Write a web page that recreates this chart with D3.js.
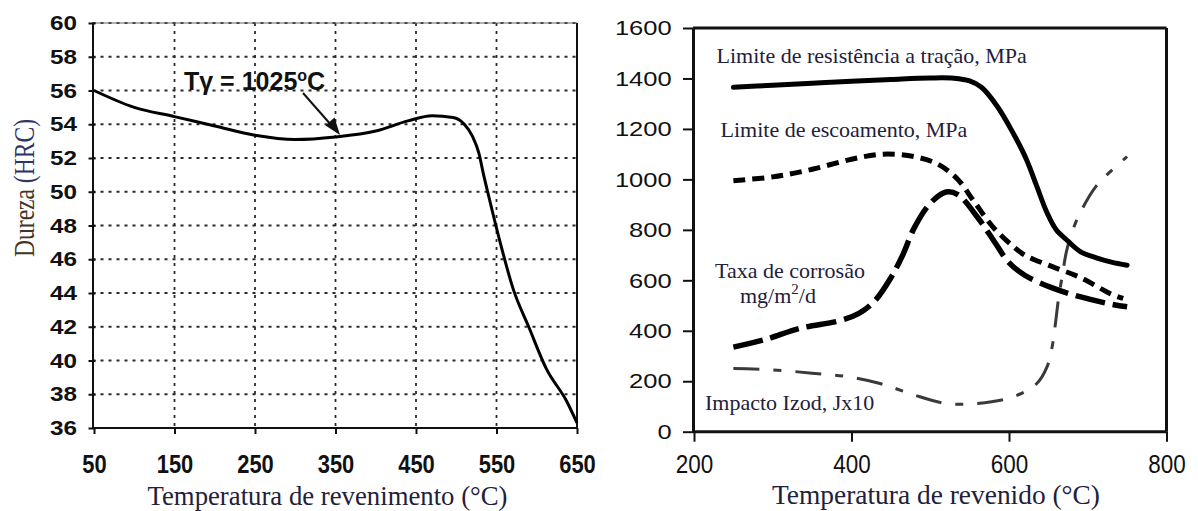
<!DOCTYPE html>
<html>
<head>
<meta charset="utf-8">
<script src="https://cdn.jsdelivr.net/npm/d3@7"></script>
<style>
  body { margin: 0; background: #fff; }
  svg { display: block; }
</style>
</head>
<body>
<svg id="chart" width="1198" height="511"></svg>
<script>
// ---- Hardness after tempering (left panel) ----
const hardTemp = [50, 100, 150, 200, 250, 300, 350, 400, 440, 470, 496, 510, 520, 528, 534, 540, 554, 571, 590, 612, 637, 650];
const hardHRC  = [56.0, 55.0, 54.45, 53.9, 53.35, 53.1, 53.25, 53.6, 54.2, 54.5, 54.4, 54.0, 53.3, 52.3, 51.0, 49.8, 47.1, 44.2, 42.0, 39.5, 37.6, 36.3];
const hardXTicks = [50, 150, 250, 350, 450, 550, 650];
const hardYTicks = [36, 38, 40, 42, 44, 46, 48, 50, 52, 54, 56, 58, 60];

// ---- Mechanical properties vs tempering temperature (right panel) ----
const tensileTemp = [250, 300, 350, 400, 450, 500, 530, 550, 565, 585, 605, 622, 635, 648, 660, 675, 690, 710, 730, 750];
const tensileMPa  = [1365, 1373, 1381, 1389, 1396, 1402, 1401, 1390, 1365, 1290, 1185, 1080, 975, 870, 800, 755, 715, 690, 672, 660];

const yieldTemp = [250, 300, 350, 400, 440, 480, 510, 535, 555, 580, 605, 620, 650, 690, 730, 745];
const yieldMPa  = [995, 1010, 1040, 1080, 1100, 1090, 1060, 1000, 915, 810, 735, 700, 660, 612, 545, 528];

const corrTemp = [250, 290, 335, 385, 410, 430, 450, 465, 480, 500, 520, 535, 560, 580, 600, 620, 655, 690, 730, 750];
const corrRate = [335, 365, 410, 440, 470, 520, 610, 700, 810, 905, 950, 940, 850, 760, 670, 620, 570, 535, 505, 495];

const izodTemp = [250, 300, 350, 395, 435, 455, 480, 520, 560, 605, 635, 648, 655, 659, 663, 668, 673, 680, 690, 710, 730, 750];
const izodJx10 = [250, 245, 232, 218, 192, 172, 145, 112, 112, 138, 190, 255, 340, 430, 530, 625, 715, 790, 865, 970, 1035, 1090];

const propXTicks = [200, 400, 600, 800];
const propYTicks = [0, 200, 400, 600, 800, 1000, 1200, 1400, 1600];

const SANS = "'Liberation Sans', Arial, sans-serif";
const SERIF = "'Liberation Serif', 'Times New Roman', serif";
const INK = "#22203a";

const svg = d3.select("#chart");

// ======================= Left panel =======================
const xL = d3.scaleLinear().domain([50, 650]).range([94, 577]);
const yL = d3.scaleLinear().domain([36, 60]).range([428, 23]);
const leftX0 = 92.5;

const gL = svg.append("g");

// dotted grid
gL.append("g").selectAll("line")
  .data(hardYTicks.filter(v => v > 36))
  .join("line")
  .attr("x1", leftX0).attr("x2", xL(650))
  .attr("y1", d => yL(d)).attr("y2", d => yL(d))
  .attr("stroke", "#2a2a2a").attr("stroke-width", 1.8)
  .attr("stroke-dasharray", "3,5");
gL.append("g").selectAll("line")
  .data(hardXTicks.filter(v => v > 50 && v < 650))
  .join("line")
  .attr("x1", d => xL(d)).attr("x2", d => xL(d))
  .attr("y1", yL(60)).attr("y2", yL(36))
  .attr("stroke", "#2a2a2a").attr("stroke-width", 1.8)
  .attr("stroke-dasharray", "3,5");

// frame
gL.append("line").attr("x1", leftX0).attr("x2", xL(650)).attr("y1", yL(60)).attr("y2", yL(60))
  .attr("stroke", "#666").attr("stroke-width", 1);
gL.append("line").attr("x1", xL(650)).attr("x2", xL(650)).attr("y1", yL(60)).attr("y2", yL(36))
  .attr("stroke", "#111").attr("stroke-width", 2);
gL.append("line").attr("x1", leftX0).attr("x2", xL(650)).attr("y1", yL(36)).attr("y2", yL(36))
  .attr("stroke", "#111").attr("stroke-width", 2);

// y axis
const axL = gL.append("g").attr("transform", `translate(${leftX0},0)`)
  .call(d3.axisLeft(yL).tickValues(hardYTicks).tickSize(4).tickSizeOuter(0).tickPadding(11.5));
axL.select(".domain").attr("stroke", "#111").attr("stroke-width", 2);
axL.selectAll(".tick line").attr("x1", 3).attr("stroke", "#111").attr("stroke-width", 2);
axL.selectAll(".tick text")
  .attr("font-family", SANS).attr("font-weight", "bold").attr("font-size", 21).attr("fill", "#111")
  .attr("textLength", d => String(d).length * 13.5).attr("lengthAdjust", "spacingAndGlyphs");

// x axis
const axLB = gL.append("g").attr("transform", `translate(0,${yL(36)})`)
  .call(d3.axisBottom(xL).tickValues(hardXTicks).tickSize(6).tickSizeOuter(0));
axLB.select(".domain").remove();
axLB.selectAll(".tick line").attr("stroke", "#111").attr("stroke-width", 2);
axLB.selectAll(".tick text")
  .attr("y", 45).attr("dy", 0)
  .attr("font-family", SANS).attr("font-weight", "bold").attr("font-size", 25).attr("fill", "#111")
  .attr("textLength", d => String(d).length * 12.2).attr("lengthAdjust", "spacingAndGlyphs");

// hardness curve
const lineL = d3.line().x((d, i) => xL(hardTemp[i])).y(d => yL(d)).curve(d3.curveMonotoneX);
gL.append("path").datum(hardHRC)
  .attr("d", lineL).attr("fill", "none").attr("stroke", "#000").attr("stroke-width", 3)
  .attr("stroke-linejoin", "round");

// annotation
const ann = gL.append("text").attr("x", 184).attr("y", 90)
  .attr("font-family", SANS).attr("font-weight", "bold").attr("font-size", 25).attr("fill", "#111");
ann.append("tspan").text("Tγ = 1025");
ann.append("tspan").attr("font-size", 16).attr("dy", -9).text("o");
ann.append("tspan").attr("dy", 9).text("C");

gL.append("line").attr("x1", 303).attr("y1", 93).attr("x2", 332).attr("y2", 126)
  .attr("stroke", "#111").attr("stroke-width", 2);
gL.append("path").attr("d", "M340,135 L325.5,125.5 L334.5,117.5 Z").attr("fill", "#111");

// axis titles
gL.append("text").attr("x", 147.5).attr("y", 505)
  .attr("font-family", SERIF).attr("font-size", 26.5).attr("fill", INK)
  .attr("textLength", 360).attr("lengthAdjust", "spacingAndGlyphs")
  .text("Temperatura de revenimento (°C)");

const yTitle = gL.append("text")
  .attr("transform", "translate(34,188) rotate(-90) scale(1,1.25)")
  .attr("text-anchor", "middle")
  .attr("font-family", SERIF).attr("font-size", 23.5)
  .attr("textLength", 138).attr("lengthAdjust", "spacingAndGlyphs");
yTitle.append("tspan").attr("fill", "#45321f").text("Dureza ");
yTitle.append("tspan").attr("fill", "#2c3468").text("(HRC)");

// ======================= Right panel =======================
const xR = d3.scaleLinear().domain([200, 800]).range([694, 1166.5]);
const yR = d3.scaleLinear().domain([0, 1600]).range([431.7, 28]);
const gR = svg.append("g");

// frame (top, right, bottom)
gR.append("line").attr("x1", 693).attr("x2", xR(800)).attr("y1", yR(1600)).attr("y2", yR(1600))
  .attr("stroke", "#111").attr("stroke-width", 3);
gR.append("line").attr("x1", xR(800)).attr("x2", xR(800)).attr("y1", yR(1600)).attr("y2", yR(0))
  .attr("stroke", "#111").attr("stroke-width", 3);
gR.append("line").attr("x1", 693).attr("x2", xR(800)).attr("y1", yR(0)).attr("y2", yR(0))
  .attr("stroke", "#111").attr("stroke-width", 3);

// y axis
const axR = gR.append("g").attr("transform", "translate(693,0)")
  .call(d3.axisLeft(yR).tickValues(propYTicks).tickFormat(d3.format("d"))
    .tickSize(10).tickSizeOuter(0).tickPadding(11.3));
axR.select(".domain").attr("stroke", "#111").attr("stroke-width", 3);
axR.selectAll(".tick line").attr("stroke", "#111").attr("stroke-width", 2);
axR.selectAll(".tick text")
  .attr("font-family", SANS).attr("font-size", 21).attr("fill", "#111")
  .attr("textLength", d => String(d).length * 14.2).attr("lengthAdjust", "spacingAndGlyphs");

// x axis
const axRB = gR.append("g").attr("transform", `translate(0,${yR(0)})`)
  .call(d3.axisBottom(xR).tickValues(propXTicks).tickFormat(d3.format("d"))
    .tickSize(10).tickSizeOuter(0));
axRB.select(".domain").remove();
axRB.selectAll(".tick line").attr("stroke", "#111").attr("stroke-width", 2);
axRB.selectAll(".tick text")
  .attr("y", 41.3).attr("dy", 0)
  .attr("font-family", SANS).attr("font-size", 25).attr("fill", "#111")
  .attr("textLength", d => String(d).length * 12.5).attr("lengthAdjust", "spacingAndGlyphs");

// property curves
function seriesLine(temps) {
  return d3.line().x((d, i) => xR(temps[i])).y(d => yR(d)).curve(d3.curveCatmullRom.alpha(0.5));
}
gR.append("path").datum(izodJx10).attr("d", seriesLine(izodTemp))
  .attr("fill", "none").attr("stroke", "#3a3a3a").attr("stroke-width", 3)
  .attr("stroke-dasharray", "26,14,8,14");
gR.append("path").datum(corrRate).attr("d", seriesLine(corrTemp))
  .attr("fill", "none").attr("stroke", "#000").attr("stroke-width", 5.5)
  .attr("stroke-dasharray", "30,8");
gR.append("path").datum(yieldMPa).attr("d", seriesLine(yieldTemp))
  .attr("fill", "none").attr("stroke", "#000").attr("stroke-width", 5)
  .attr("stroke-dasharray", "12,7");
gR.append("path").datum(tensileMPa).attr("d", seriesLine(tensileTemp))
  .attr("fill", "none").attr("stroke", "#000").attr("stroke-width", 5)
  .attr("stroke-linecap", "round").attr("stroke-linejoin", "round");

// series labels
const labelStyle = sel => sel.attr("font-family", SERIF).attr("font-size", 22).attr("fill", INK);
gR.append("text").attr("x", 716.5).attr("y", 63).call(labelStyle)
  .text("Limite de resistência a tração, MPa");
gR.append("text").attr("x", 720.5).attr("y", 137).call(labelStyle)
  .text("Limite de escoamento, MPa");
gR.append("text").attr("x", 715).attr("y", 278).call(labelStyle)
  .text("Taxa de corrosão");
const corrUnit = gR.append("text").attr("x", 740).attr("y", 303).call(labelStyle);
corrUnit.append("tspan").text("mg/m");
corrUnit.append("tspan").attr("font-size", 15).attr("dy", -9).text("2");
corrUnit.append("tspan").attr("dy", 9).text("/d");
gR.append("text").attr("x", 705).attr("y", 410).call(labelStyle)
  .text("Impacto Izod, Jx10");

// axis title
gR.append("text").attr("x", 772).attr("y", 504)
  .attr("font-family", SERIF).attr("font-size", 27).attr("fill", INK)
  .attr("textLength", 328).attr("lengthAdjust", "spacingAndGlyphs")
  .text("Temperatura de revenido (°C)");
</script>
</body>
</html>
